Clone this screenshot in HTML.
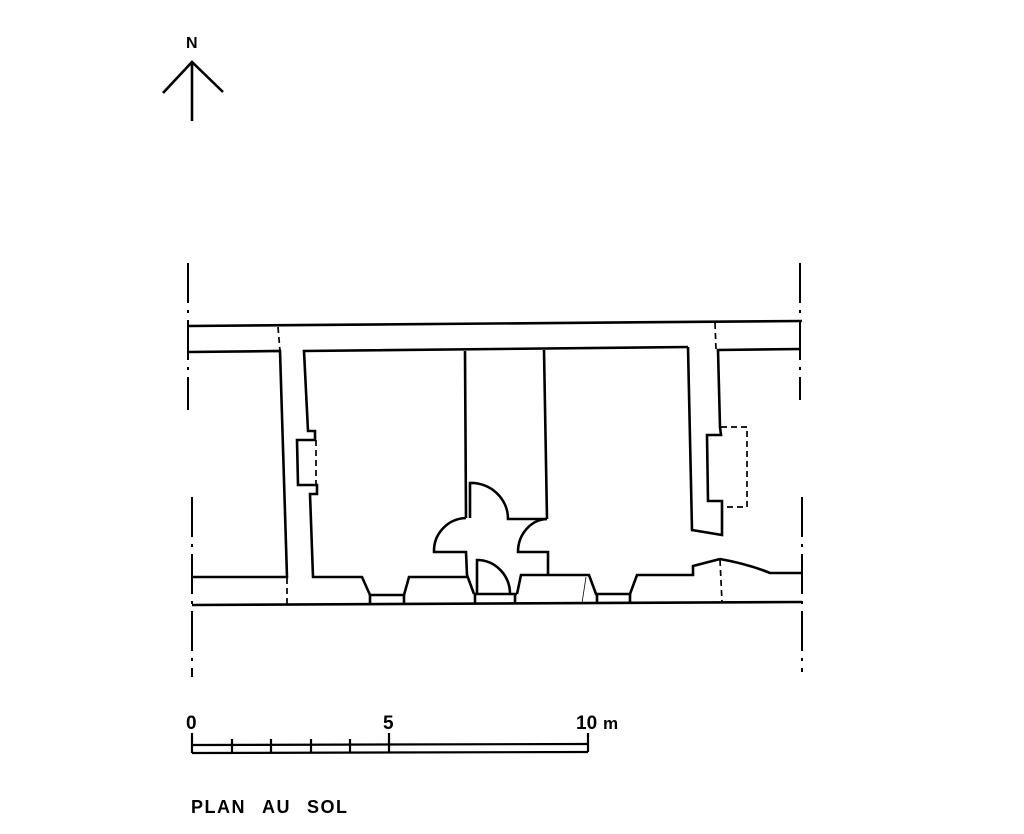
<!DOCTYPE html>
<html><head><meta charset="utf-8"><style>
html,body{margin:0;padding:0;background:#fff;}
svg{display:block;}
text{font-family:"Liberation Sans",sans-serif;font-weight:bold;fill:#000;}
</style></head><body>
<svg width="1024" height="834" viewBox="0 0 1024 834" xmlns="http://www.w3.org/2000/svg">
<g fill="none" stroke="#000" stroke-width="2.6" stroke-linejoin="miter">
<!-- north arrow -->
<polyline points="163,93 192,62 223,92"/>
<line x1="192" y1="62" x2="192" y2="121"/>
<!-- boundary dash-dot -->
<g stroke-width="2" stroke-dasharray="40,7,3,7">
<line x1="188" y1="263" x2="188" y2="410"/>
<line x1="192" y1="497" x2="192" y2="677"/>
<line x1="800" y1="263" x2="800" y2="400"/>
<line x1="802" y1="497" x2="802" y2="672"/>
</g>
<!-- outer lines -->
<line x1="188" y1="326" x2="802" y2="321"/>
<line x1="192" y1="605" x2="802" y2="602"/>
<!-- left building -->
<polyline points="188,352 280,351 287,577 192,577"/>
<!-- dashed separators -->
<g stroke-width="1.7" stroke-dasharray="6,4">
<line x1="278" y1="327" x2="280" y2="351"/>
<line x1="287" y1="578" x2="287" y2="604"/>
<line x1="316" y1="440" x2="316" y2="485"/>
<line x1="715" y1="323" x2="716" y2="349"/>
<line x1="720" y1="560" x2="722" y2="602"/>
<polyline points="721,427 747,427 747,507 722,507"/>
</g>
<!-- main inner outline -->
<polyline points="688,347 304,351 308,431 315,431 315,440 297,440 298,485 317,485 317,494 310,494 313,577 362,577 370,595 404,595 409,577 467,577"/>
<polyline points="370,595 370,604"/><polyline points="404,595 404,604"/>
<!-- center walls and doors -->
<polyline points="465,351 466,518"/>
<path d="M466,518 A33,33 0 0 0 434,552 L466,552 L467,575 L474,594"/>
<path d="M470,518 L470,483 A37,36 0 0 1 508,519 L547,519"/>
<line x1="544" y1="350" x2="547" y2="519"/>
<path d="M547,519 A30,33 0 0 0 518,552 L548,552 L548,575"/>
<path d="M477,594 L477,560 A33,34 0 0 1 510,594"/>
<line x1="474" y1="594" x2="517" y2="594"/>
<line x1="475" y1="594" x2="475" y2="603"/><line x1="515" y1="594" x2="515" y2="603"/>
<polyline points="517,594 521,575 589,575 596,594 630,594 637,575 693,575 693,566 720,559"/>
<path d="M720,559 Q748,564 770,573 L802,573"/>
<line x1="597" y1="594" x2="597" y2="603"/><line x1="630" y1="594" x2="630" y2="603"/>
<!-- right room wall -->
<polyline points="688,347 692,530 722,535 722,501 708,501 707,435 721,435 720,427 718,350 801,349"/>
</g>
<line x1="586" y1="577" x2="582" y2="603" stroke="#000" stroke-width="0.8"/>
<!-- scale bar -->
<g fill="none" stroke="#000" stroke-width="2.2">
<line x1="192" y1="745" x2="588" y2="744"/>
<line x1="192" y1="753" x2="588" y2="752"/>
<line x1="192" y1="733" x2="192" y2="753"/>
<line x1="232" y1="739" x2="232" y2="753"/>
<line x1="271" y1="739" x2="271" y2="753"/>
<line x1="311" y1="739" x2="311" y2="753"/>
<line x1="350" y1="739" x2="350" y2="753"/>
<line x1="389" y1="733" x2="389" y2="753"/>
<line x1="588" y1="733" x2="588" y2="752"/>
</g>
<text x="186" y="48" font-size="16">N</text>
<text x="186" y="729" font-size="19">0</text>
<text x="383" y="729" font-size="19">5</text>
<text x="576" y="729" font-size="19">10</text>
<text x="603" y="729" font-size="17">m</text>
<text x="191" y="813" font-size="18" letter-spacing="1.5">PLAN</text>
<text x="262" y="813" font-size="18" letter-spacing="1.5">AU</text>
<text x="307" y="813" font-size="18" letter-spacing="1.5">SOL</text>
</svg>
</body></html>
